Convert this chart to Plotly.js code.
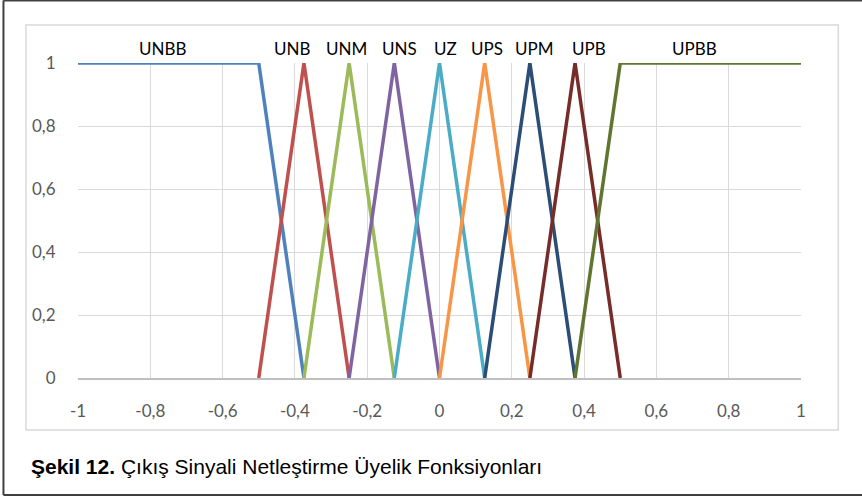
<!DOCTYPE html>
<html>
<head>
<meta charset="utf-8">
<script src="https://cdn.plot.ly/plotly-3.0.1.min.js"></script>
<style>
  html, body { margin: 0; padding: 0; background: #fff; }
  #chart { width: 862px; height: 501px; }
</style>
</head>
<body>
<div id="chart"></div>
<script>
// ---- data ----
const seriesNames = ['UNBB', 'UNB', 'UNM', 'UNS', 'UZ', 'UPS', 'UPM', 'UPB', 'UPBB'];
const seriesX = [
  [-1, -0.5, -0.375],
  [-0.5, -0.375, -0.25],
  [-0.375, -0.25, -0.125],
  [-0.25, -0.125, 0],
  [-0.125, 0, 0.125],
  [0, 0.125, 0.25],
  [0.125, 0.25, 0.375],
  [0.25, 0.375, 0.5],
  [0.375, 0.5, 1]
];
const seriesY = [
  [1, 1, 0],
  [0, 1, 0],
  [0, 1, 0],
  [0, 1, 0],
  [0, 1, 0],
  [0, 1, 0],
  [0, 1, 0],
  [0, 1, 0],
  [0, 1, 1]
];
const xTickVals = [-1, -0.8, -0.6, -0.4, -0.2, 0, 0.2, 0.4, 0.6, 0.8, 1];
const xTickText = ['-1', '-0,8', '-0,6', '-0,4', '-0,2', '0', '0,2', '0,4', '0,6', '0,8', '1'];
const yTickVals = [0, 0.2, 0.4, 0.6, 0.8, 1];
const yTickText = ['0', '0,2', '0,4', '0,6', '0,8', '1'];
const captionBold = 'Şekil 12.';
const captionText = ' Çıkış Sinyali Netleştirme Üyelik Fonksiyonları';

// ---- styles ----
const colors = ['#4F81BD', '#C0504D', '#9BBB59', '#8064A2', '#4BACC6', '#F79646', '#2C4D75', '#772C2A', '#5F7530'];
const labelPos = [-0.767, -0.408, -0.256, -0.112, 0.0155, 0.132, 0.264, 0.4125, 0.704];

const traces = seriesNames.map((n, i) => ({
  type: 'scatter', mode: 'lines', name: n,
  x: seriesX[i], y: seriesY[i],
  line: { color: colors[i], width: 3.5 },
  hoverinfo: 'skip'
}));

const tickFont = { family: 'Lato, Carlito, Calibri, sans-serif', size: 17, color: '#595959' };

const annotations = seriesNames.map((n, i) => ({
  x: labelPos[i], y: 1, xref: 'x', yref: 'y',
  text: n, showarrow: false, xanchor: 'center', yanchor: 'middle', yshift: 15,
  font: { family: 'Lato, Carlito, Calibri, sans-serif', size: 17, color: '#000000' }
}));
annotations.push({
  xref: 'paper', yref: 'paper', x: -0.0678, y: -0.2825,
  xanchor: 'left', yanchor: 'middle', showarrow: false,
  text: '<b>' + captionBold + '</b>' + captionText,
  font: { family: '"Liberation Sans Narrow", "Arial Narrow", "Liberation Sans", sans-serif', size: 21, color: '#000000' }
});

const shapes = [
  // chart area border (light gray)
  { type: 'rect', xref: 'paper', yref: 'paper', x0: -0.072, x1: 1.0516, y0: -0.165, y1: 1.1206,
    line: { color: '#D9D9D9', width: 1.5 }, fillcolor: 'rgba(0,0,0,0)', layer: 'below' },
  // outer frame (dark) top, left, bottom
  { type: 'line', xref: 'paper', yref: 'paper', x0: -0.1031, x1: 1.09, y0: 1.1984, y1: 1.1984,
    line: { color: '#404040', width: 2 } },
  { type: 'line', xref: 'paper', yref: 'paper', x0: -0.1031, x1: -0.1031, y0: 1.1984, y1: -0.3714,
    line: { color: '#404040', width: 2 } },
  { type: 'line', xref: 'paper', yref: 'paper', x0: -0.1031, x1: 1.09, y0: -0.3714, y1: -0.3714,
    line: { color: '#404040', width: 2 } }
];

const layout = {
  width: 862, height: 501,
  margin: { l: 78, r: 61, t: 63, b: 123 },
  paper_bgcolor: '#ffffff', plot_bgcolor: '#ffffff',
  showlegend: false,
  xaxis: {
    range: [-1, 1], tickvals: xTickVals, ticktext: xTickText,
    showgrid: true, gridcolor: '#D9D9D9', gridwidth: 1,
    zeroline: false, showline: true, linecolor: '#BFBFBF', linewidth: 1.5,
    ticks: 'outside', ticklen: 17, tickcolor: 'rgba(0,0,0,0)',
    tickfont: tickFont, fixedrange: true
  },
  yaxis: {
    range: [0, 1], tickvals: yTickVals, ticktext: yTickText,
    showgrid: true, gridcolor: '#D9D9D9', gridwidth: 1,
    zeroline: false, showline: false,
    ticks: 'outside', ticklen: 18, tickcolor: 'rgba(0,0,0,0)',
    tickfont: tickFont, fixedrange: true
  },
  annotations: annotations,
  shapes: shapes
};

Plotly.newPlot('chart', traces, layout, { staticPlot: true, displayModeBar: false });
</script>
</body>
</html>
